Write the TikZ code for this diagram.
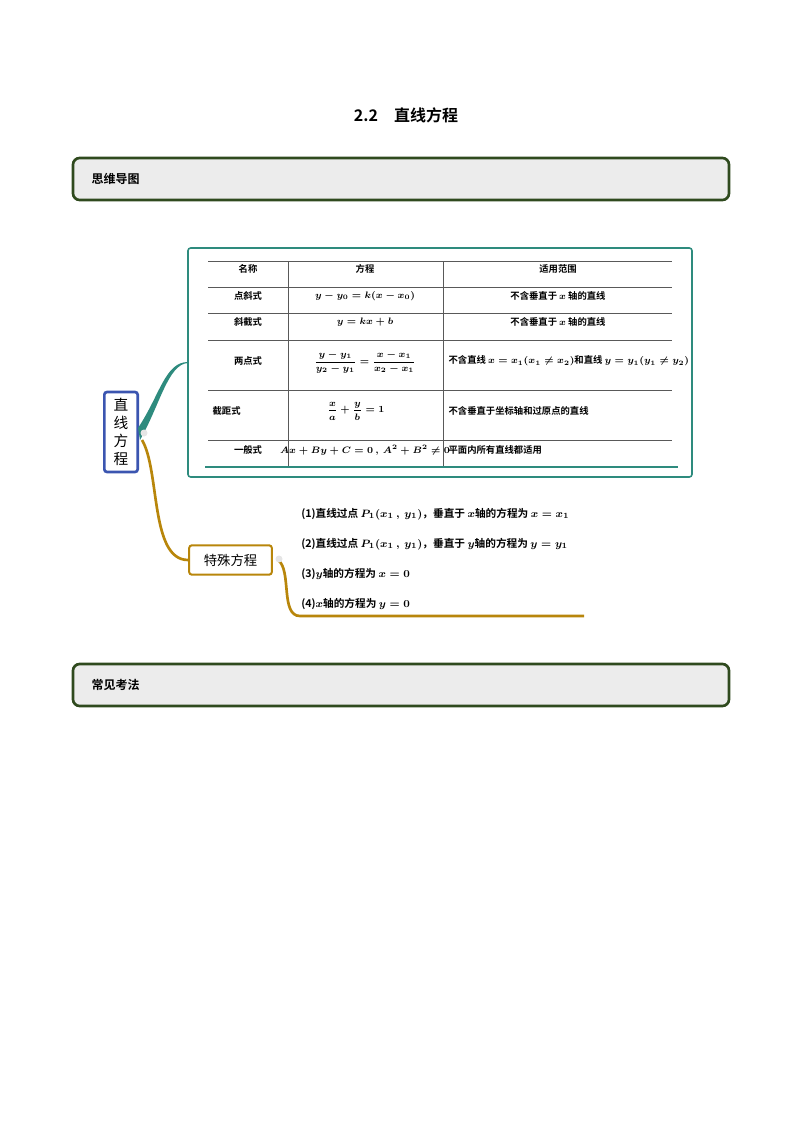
\documentclass[tikz,border=0pt]{standalone}
\usepackage{fontspec}
\newfontfamily\cjk{Noto Sans CJK SC}
\newfontfamily\cjkb{Noto Sans CJK SC Bold}
\usepackage{amsmath}
\definecolor{hdr}{HTML}{2F4A1E}
\definecolor{teal1}{HTML}{2E8B7E}
\definecolor{gold}{HTML}{B8860B}
\definecolor{rootb}{HTML}{3B55B0}
\begin{document}
\begin{tikzpicture}[x=0.75pt,y=-0.75pt,
  hbar/.style={draw=hdr,line width=2pt,rounded corners=5pt,fill=gray!15},
  tl/.style={draw=gray!70!black,line width=0.5pt},
  cell/.style={font=\cjkb\fontsize{7}{8}\selectfont,inner sep=1pt},
  item/.style={font=\cjkb\fontsize{8}{9}\selectfont,anchor=west,inner sep=0pt}]
\useasboundingbox (0,0) rectangle (794,1123);
\node[font=\cjkb\fontsize{12}{14}\selectfont] (title) at (406,115) {2.2\quad 直线方程};
\draw[hbar] (73,158) rectangle (729,200);
\node[anchor=west,font=\cjkb\fontsize{9}{10}\selectfont] (h1) at (87,179) {思维导图};
\draw[hbar] (73,664) rectangle (729,706);
\node[anchor=west,font=\cjkb\fontsize{9}{10}\selectfont] (h2) at (87,685) {常见考法};
% table box
\draw[teal1,line width=1.2pt,rounded corners=2pt] (188,248) rectangle (692,477);
\foreach \y in {261,287,313,340,390,440} \draw[tl] (208,\y) -- (672,\y);
\draw[tl] (288,261) -- (288,466);
\draw[tl] (443,261) -- (443,466);
\draw[teal1,line width=1.5pt] (205,467) -- (678,467);
\node[cell] (c11) at (248,269) {名称};
\node[cell] (c12) at (365,269) {方程};
\node[cell] (c13) at (558,269) {适用范围};
\node[cell] (c21) at (248,296) {点斜式};
\node[cell] (c22) at (365,296) {$\boldsymbol{y-y_0=k(x-x_0)}$};
\node[cell] (c23) at (558,296) {不含垂直于 $\boldsymbol{x}$ 轴的直线};
\node[cell] (c31) at (248,322) {斜截式};
\node[cell] (c32) at (365,322) {$\boldsymbol{y=kx+b}$};
\node[cell] (c33) at (558,322) {不含垂直于 $\boldsymbol{x}$ 轴的直线};
\node[cell] (c41) at (248,361) {两点式};
\node[cell] (c42) at (365,362) {$\boldsymbol{\dfrac{y-y_1}{y_2-y_1}=\dfrac{x-x_1}{x_2-x_1}}$};
\node[cell,anchor=west] (c43) at (447,361) {不含直线 $\boldsymbol{x=x_1(x_1\neq x_2)}$和直线 $\boldsymbol{y=y_1(y_1\neq y_2)}$};
\node[cell,anchor=west] (c51) at (211,411) {截距式};
\node[cell] (c52) at (356,411) {$\boldsymbol{\dfrac{x}{a}+\dfrac{y}{b}=1}$};
\node[cell,anchor=west] (c53) at (447,411) {不含垂直于坐标轴和过原点的直线};
\node[cell] (c61) at (248,450) {一般式};
\node[cell] (c62) at (365,450) {$\boldsymbol{Ax+By+C=0\ ,\ A^2+B^2\neq 0}$};
\node[cell,anchor=west] (c63) at (447,450) {平面内所有直线都适用};
% root
\node[draw=rootb,line width=2pt,rounded corners=2pt,minimum width=25pt,minimum height=60pt,align=center,font=\cjk\fontsize{11}{13.5}\selectfont] (root) at (121,432) {直\\线\\方\\程};
\fill[teal1] (138,428) .. controls (160,395) and (165,362) .. (188,362) -- (188,363) .. controls (168,364) and (160,405) .. (140,440) -- cycle;
\draw[gold,line width=2pt] (142,440) .. controls (160,470) and (150,560) .. (188,560);
\node[draw=gold,line width=1.5pt,rounded corners=2pt,minimum width=62pt,minimum height=22pt,font=\cjk\fontsize{10}{12}\selectfont] (sp) at (230.5,560) {特殊方程};
\draw[gold,line width=2pt] (278,560) .. controls (292,570) and (280,616) .. (300,616) -- (584,616);
\fill[gray!20] (144,433) circle (3.5);
\fill[gray!20] (279,559) circle (3.5);
\node[item] (i1) at (301,514) {(1)直线过点 $\boldsymbol{P_1(x_1\ ,\ y_1)}$，垂直于 $\boldsymbol{x}$轴的方程为 $\boldsymbol{x=x_1}$};
\node[item] (i2) at (301,544) {(2)直线过点 $\boldsymbol{P_1(x_1\ ,\ y_1)}$，垂直于 $\boldsymbol{y}$轴的方程为 $\boldsymbol{y=y_1}$};
\node[item] (i3) at (301,574) {(3)$\boldsymbol{y}$轴的方程为 $\boldsymbol{x=0}$};
\node[item] (i4) at (301,604) {(4)$\boldsymbol{x}$轴的方程为 $\boldsymbol{y=0}$};
\end{tikzpicture}
\end{document}
